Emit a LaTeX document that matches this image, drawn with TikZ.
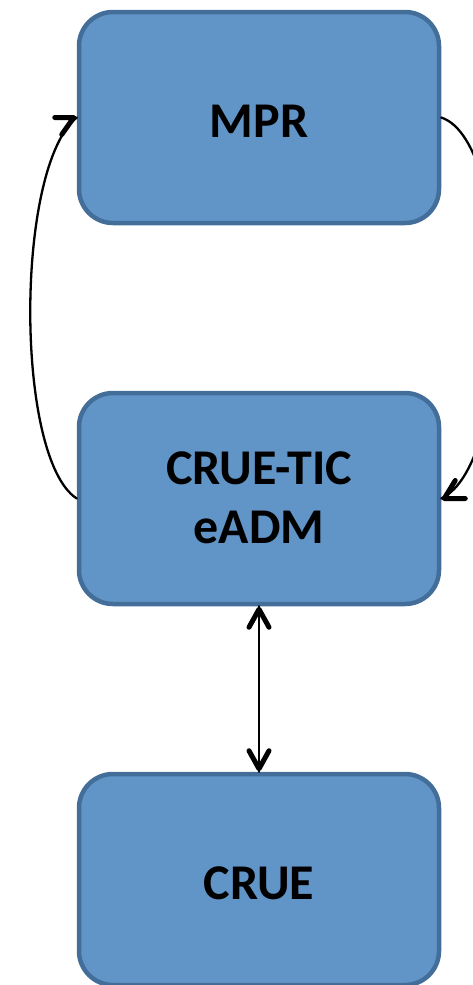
\documentclass[tikz,border=0pt]{standalone}
\usepackage{fontspec}
\setmainfont{Carlito}
\usetikzlibrary{calc}
\definecolor{boxfill}{RGB}{97,148,199}
\definecolor{boxline}{RGB}{68,110,154}
\begin{document}
\begin{tikzpicture}[x=1pt,y=-1pt,
  box/.style={draw=boxline, fill=boxfill, line width=4.5pt, rounded corners=34pt,
    minimum width=360pt, minimum height=211pt, align=center,
    font=\fontsize{50}{59}\selectfont\bfseries, inner sep=0pt},
  link/.style={line width=2.3pt, line cap=round},
  barbhead/.style={line width=5pt, line cap=round, line join=round}
]
\useasboundingbox (0,0) rectangle (472,985);
\node[box] (mpr) at (259,117.5) {\raisebox{-3.5pt}[\height][\depth]{MPR}};
\node[box] (tic) at (259,498.5) {\raisebox{-3.5pt}[\height][\depth]{\begin{tabular}{@{}c@{}}CRUE-TIC\\eADM\end{tabular}}};
\node[box] (crue) at (259,879.5) {\raisebox{-3.5pt}[\height][\depth]{CRUE}};
% left curve: CRUE-TIC -> MPR
\draw[link] (tic.west) .. controls +(-62,-40) and +(-62,50) .. (mpr.west);
\draw[barbhead] ($(mpr.west)+(-22,0)$) -- ($(mpr.west)+(-3,0)$) -- ($(mpr.west)+(-15,17)$);
% right curve: MPR -> CRUE-TIC
\draw[link] (mpr.east) .. controls +(75,25) and +(75,-35) .. (tic.east);
\draw[barbhead] ($(tic.east)+(24,0)$) -- ($(tic.east)+(3,0)$) -- ($(tic.east)+(14,-18)$);
% double arrow
\draw[link] (tic.south) -- (crue.north);
\draw[barbhead] ($(tic.south)+(-10,21)$) -- ($(tic.south)+(0,3)$) -- ($(tic.south)+(10,21)$);
\draw[barbhead] ($(crue.north)+(-10,-21)$) -- ($(crue.north)+(0,-3)$) -- ($(crue.north)+(10,-21)$);
\end{tikzpicture}
\end{document}
